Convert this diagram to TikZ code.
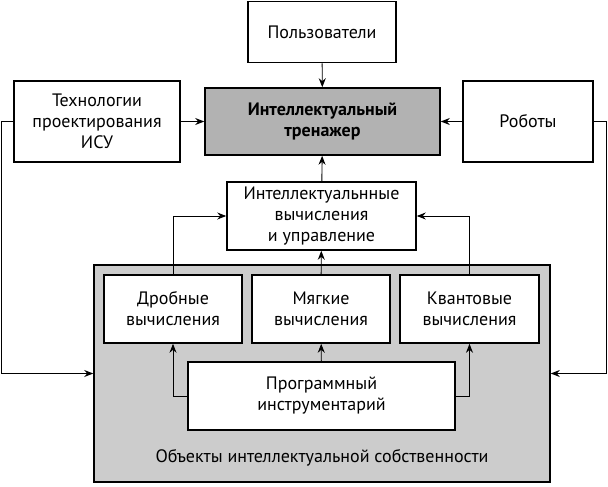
\documentclass[tikz,border=0pt]{standalone}
\usepackage{fontspec}
\setmainfont{PT Sans}
\usetikzlibrary{arrows.meta}
\definecolor{darkfill}{gray}{0.70}
\definecolor{lightfill}{gray}{0.80}
\tikzset{
  box/.style={draw=black, line width=1.6pt, fill=white, align=center, inner sep=0pt,
    font=\fontsize{18}{21}\selectfont},
  arr/.style={line width=0.9pt, -{Stealth[length=9pt,width=7pt,inset=3pt]}},
}
\begin{document}
\begin{tikzpicture}[x=1pt,y=-1pt]
\useasboundingbox (0,0) rectangle (608,487);
% big grey container
\node[box, fill=lightfill, minimum width=456pt, minimum height=217pt] (obj) at (322,373.5) {};
\node[font=\fontsize{18}{21}\selectfont] (objlabel) at (322,458) {Объекты интеллектуальной собственности};
% boxes
\node[box, minimum width=148pt, minimum height=61pt] (user) at (322,32) {Пользователи};
\node[box, minimum width=166pt, minimum height=81pt] (tech) at (97,121.5) {Технологии\\проектирования\\ИСУ};
\node[box, fill=darkfill, minimum width=235pt, minimum height=67pt, font=\fontsize{18}{21}\selectfont\bfseries] (train) at (322.5,121.5) {Интеллектуальный\\тренажер};
\node[box, minimum width=130pt, minimum height=81pt] (robot) at (528,121.5) {Роботы};
\node[box, minimum width=189pt, minimum height=68pt] (calc) at (321.5,216) {Интеллектуальнные\\вычисления\\и управление};
\node[box, minimum width=138pt, minimum height=68pt] (frac) at (173,309) {Дробные\\вычисления};
\node[box, minimum width=138pt, minimum height=68pt] (soft) at (321,309) {Мягкие\\вычисления};
\node[box, minimum width=139pt, minimum height=68pt] (quant) at (469.5,309) {Квантовые\\вычисления};
\node[box, minimum width=267pt, minimum height=68pt] (prog) at (321.5,396) {Программный\\инструментарий};
% connectors
\draw[arr] (user) -- (train);
\draw[arr] (tech) -- (train);
\draw[arr] (robot) -- (train);
\draw[arr] (calc) -- (train);
\draw[arr] (soft) -- (calc);
\draw[arr] (frac.north) |- (calc.west);
\draw[arr] (quant.north) |- (calc.east);
\draw[arr] (prog) -- (soft);
\draw[arr] (prog.west) -| (frac.south);
\draw[arr] (prog.east) -| (quant.south);
\draw[arr] (tech.west) -- ++(-12,0) |- (obj.west);
\draw[arr] (robot.east) -- ++(13,0) |- (obj.east);
\end{tikzpicture}
\end{document}
